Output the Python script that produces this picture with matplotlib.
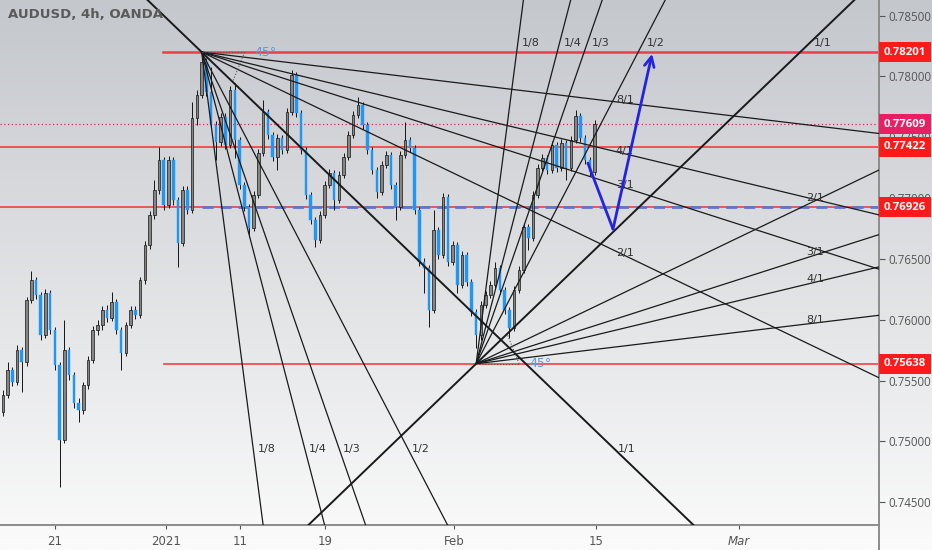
import matplotlib

matplotlib.use("Agg")
import matplotlib.pyplot as plt
import numpy as np

# AUDUSD 4h candles (one candle per third of a trading day)
opens = [0.75241, 0.75381, 0.75586, 0.75488, 0.75751, 0.75652, 0.76162, 0.76326, 0.76203, 0.75874,
         0.76219, 0.75915, 0.75627, 0.75011, 0.75751, 0.75545, 0.75315, 0.75257, 0.75463, 0.75668,
         0.75915, 0.75956, 0.76080, 0.76014, 0.76145, 0.75915, 0.75726, 0.75956, 0.76080, 0.76039,
         0.76326, 0.76614, 0.76861, 0.77067, 0.77313, 0.76943, 0.77313, 0.76984, 0.76631, 0.77067,
         0.76902, 0.77659, 0.77848, 0.78119, 0.77873, 0.77601, 0.77461, 0.77667, 0.77437, 0.77889,
         0.77478, 0.77108, 0.76927, 0.76754, 0.77025, 0.77371, 0.77708, 0.77519, 0.77338, 0.77494,
         0.77395, 0.77708, 0.78012, 0.77700, 0.77395, 0.77025, 0.76820, 0.76655, 0.76861, 0.77108,
         0.77206, 0.76984, 0.77190, 0.77338, 0.77519, 0.77683, 0.77766, 0.77601, 0.77395, 0.77231,
         0.77050, 0.77272, 0.77354, 0.77108, 0.76927, 0.77354, 0.77478, 0.77412, 0.76902, 0.76474,
         0.76425, 0.76080, 0.76738, 0.76532, 0.77009, 0.76474, 0.76614, 0.76285, 0.76532, 0.76310,
         0.76063, 0.75874, 0.76121, 0.76203, 0.76285, 0.76425, 0.76244, 0.76080, 0.75932, 0.76244,
         0.76409, 0.76762, 0.76672, 0.77025, 0.77247, 0.77330, 0.77231, 0.77437, 0.77247, 0.77453,
         0.77247, 0.77478, 0.77675, 0.77494, 0.77313, 0.77215]
highs = [0.75422, 0.75652, 0.75611, 0.75792, 0.75775, 0.76187, 0.76400, 0.76351, 0.76228, 0.76252,
         0.76244, 0.75940, 0.75652, 0.75997, 0.75775, 0.75570, 0.75356, 0.75488, 0.75701, 0.75948,
         0.75997, 0.76113, 0.76121, 0.76228, 0.76170, 0.75940, 0.75981, 0.76113, 0.76113, 0.76351,
         0.76647, 0.76894, 0.77149, 0.77420, 0.77338, 0.77346, 0.77338, 0.77009, 0.77099, 0.77099,
         0.77790, 0.77889, 0.78202, 0.78152, 0.78078, 0.77634, 0.77700, 0.77700, 0.77922, 0.77947,
         0.77502, 0.77132, 0.76951, 0.77058, 0.77404, 0.77807, 0.77733, 0.77544, 0.77527, 0.77519,
         0.77741, 0.78053, 0.78037, 0.77724, 0.77420, 0.77050, 0.76845, 0.76894, 0.77141, 0.77239,
         0.77231, 0.77223, 0.77371, 0.77552, 0.77716, 0.77831, 0.77790, 0.77626, 0.77420, 0.77256,
         0.77305, 0.77387, 0.77379, 0.77132, 0.77387, 0.77626, 0.77502, 0.77437, 0.76927, 0.76507,
         0.76450, 0.76902, 0.76762, 0.77042, 0.77034, 0.76647, 0.76639, 0.76565, 0.76557, 0.76335,
         0.76088, 0.76154, 0.76236, 0.76318, 0.76474, 0.76450, 0.76269, 0.76104, 0.76277, 0.76441,
         0.76795, 0.76787, 0.77058, 0.77280, 0.77363, 0.77354, 0.77469, 0.77461, 0.77486, 0.77478,
         0.77511, 0.77724, 0.77700, 0.77519, 0.77338, 0.77642]
lows = [0.75208, 0.75356, 0.75455, 0.75463, 0.75405, 0.75619, 0.76137, 0.76170, 0.75833, 0.75849,
        0.75882, 0.75586, 0.74624, 0.74986, 0.75504, 0.75274, 0.75159, 0.75224, 0.75430, 0.75644,
        0.75874, 0.75915, 0.75981, 0.75989, 0.75882, 0.75586, 0.75701, 0.75932, 0.76006, 0.76014,
        0.76293, 0.76581, 0.76828, 0.77034, 0.76902, 0.76919, 0.76943, 0.76433, 0.76606, 0.76869,
        0.76877, 0.77601, 0.77823, 0.77840, 0.77576, 0.77313, 0.77428, 0.77404, 0.77412, 0.77330,
        0.77075, 0.76894, 0.76680, 0.76729, 0.77001, 0.77346, 0.77486, 0.77305, 0.77231, 0.77363,
        0.77371, 0.77683, 0.77667, 0.77363, 0.76993, 0.76787, 0.76598, 0.76631, 0.76836, 0.77083,
        0.76902, 0.76960, 0.77165, 0.77313, 0.77494, 0.77659, 0.77568, 0.77363, 0.77198, 0.77001,
        0.77025, 0.77247, 0.77075, 0.76820, 0.76902, 0.77330, 0.77379, 0.76869, 0.76441, 0.76219,
        0.75940, 0.76055, 0.76499, 0.76507, 0.76441, 0.76450, 0.76219, 0.76261, 0.76277, 0.76030,
        0.75767, 0.75833, 0.76096, 0.76178, 0.76261, 0.76211, 0.76047, 0.75849, 0.75907, 0.76219,
        0.76384, 0.76573, 0.76647, 0.77001, 0.77223, 0.77198, 0.77206, 0.77215, 0.77223, 0.77149,
        0.77223, 0.77453, 0.77461, 0.77280, 0.77182, 0.77190]
closes = [0.75381, 0.75586, 0.75488, 0.75751, 0.75652, 0.76162, 0.76326, 0.76203, 0.75874, 0.76219,
          0.75915, 0.75627, 0.75011, 0.75751, 0.75545, 0.75315, 0.75257, 0.75463, 0.75668, 0.75915,
          0.75956, 0.76080, 0.76014, 0.76145, 0.75915, 0.75726, 0.75956, 0.76080, 0.76039, 0.76326,
          0.76614, 0.76861, 0.77067, 0.77313, 0.76943, 0.77313, 0.76984, 0.76631, 0.77067, 0.76902,
          0.77659, 0.77848, 0.78119, 0.77873, 0.77601, 0.77461, 0.77667, 0.77437, 0.77889, 0.77478,
          0.77108, 0.76927, 0.76754, 0.77025, 0.77371, 0.77708, 0.77519, 0.77338, 0.77494, 0.77395,
          0.77708, 0.78012, 0.77700, 0.77395, 0.77025, 0.76820, 0.76655, 0.76861, 0.77108, 0.77206,
          0.76984, 0.77190, 0.77338, 0.77519, 0.77683, 0.77766, 0.77601, 0.77395, 0.77231, 0.77050,
          0.77272, 0.77354, 0.77108, 0.76927, 0.77354, 0.77478, 0.77412, 0.76902, 0.76474, 0.76425,
          0.76080, 0.76738, 0.76532, 0.77009, 0.76474, 0.76614, 0.76285, 0.76532, 0.76310, 0.76063,
          0.75874, 0.76121, 0.76203, 0.76285, 0.76425, 0.76244, 0.76080, 0.75932, 0.76244, 0.76409,
          0.76762, 0.76672, 0.77025, 0.77247, 0.77330, 0.77231, 0.77437, 0.77247, 0.77453, 0.77247,
          0.77478, 0.77675, 0.77494, 0.77313, 0.77215, 0.77609]

# time axis in trading days from the left edge of the chart
tick_pos = [3.87, 11.69, 16.90, 22.89, 31.97, 41.97, 52.04]
tick_lab = ["21", "2021", "11", "19", "Feb", "15", "Mar"]
price_ticks = [0.785, 0.780, 0.775, 0.770, 0.765, 0.760, 0.755, 0.750, 0.745]

# horizontal levels drawn on the chart
levels = [0.78201, 0.77422, 0.76926, 0.75638]
level_start = [11.48, 0.0, 0.0, 11.55]
last_price = 0.77609

# Gann fans
top_pivot = (14.2, 0.78201)
low_pivot = (33.53, 0.75638)
unit_slope = 0.001123  # price per trading day of the 1/1 line
fan_ratios = [8, 4, 3, 2, 1, 1 / 2, 1 / 3, 1 / 4, 1 / 8]
fan_labels = ["1/8", "1/4", "1/3", "1/2", "1/1", "2/1", "3/1", "4/1", "8/1"]

# projected path (blue arrow)
arrow_t = [41.4, 43.17, 45.92]
arrow_p = [0.77288, 0.76745, 0.78186]

XMAX = 61.9
YMIN, YMAX = 0.743117, 0.786291
AX_RIGHT = 879 / 932
PRICE_FONT = ["Open Sans", "DejaVu Sans"]

fig = plt.figure(figsize=(9.32, 5.5), dpi=100)

# background gradient
bg = fig.add_axes([0, 0, 1, 1], zorder=-10)
grad = np.linspace(0, 1, 256)[:, None]
top_c = np.array([196, 199, 204]) / 255.0
bot_c = np.array([251, 251, 251]) / 255.0
img = top_c[None, None, :] * (1 - grad[:, :, None]) + bot_c[None, None, :] * grad[:, :, None]
bg.imshow(img, aspect="auto", extent=[0, 1, 0, 1])
bg.plot([AX_RIGHT, AX_RIGHT], [0, 25 / 550], color="#8c8c8c", lw=1.4)
bg.set_xlim(0, 1)
bg.set_ylim(0, 1)
bg.axis("off")

ax = fig.add_axes([0, 25 / 550, AX_RIGHT, 525 / 550])
ax.patch.set_alpha(0)
ax.set_xlim(0, XMAX)
ax.set_ylim(YMIN, YMAX)

# candles
o = np.array(opens)
h = np.array(highs)
l = np.array(lows)
c = np.array(closes)
t = 0.2 + np.arange(len(c)) / 3.0
up = c >= o
ax.vlines(t, l, h, color="#151515", lw=0.7, zorder=3)
ax.bar(t[up], c[up] - o[up], bottom=o[up], width=0.18, color="#858585",
       edgecolor="#151515", lw=0.5, zorder=4)
ax.bar(t[~up], c[~up] - o[~up], bottom=o[~up], width=0.18, color="#2196f3",
       edgecolor="#2196f3", lw=0.3, zorder=4)

# horizontal levels
for price, x0 in zip(levels, level_start):
    lw = 1.8 if price == levels[0] else 1.2
    ax.plot([x0, XMAX], [price, price], color="#f23030", lw=lw, alpha=0.9, zorder=2)
ax.plot([0, XMAX], [last_price, last_price], color="#e91e63", lw=0.9,
        ls=(0, (1, 2)), zorder=2)
ax.plot([top_pivot[0], XMAX], [levels[2], levels[2]], color="#5a78d0", lw=2.0,
        dashes=(4, 2.5), zorder=2.5)

# Gann fans
s = unit_slope
for piv, sign, steep_p, flat_t in ((top_pivot, -1, 0.7494, 44.0), (low_pivot, 1, 0.78275, 57.4)):
    t0, p0 = piv
    for r, lab in zip(fan_ratios, fan_labels):
        start = -5 if r == 1 else t0
        tt = np.array([start, 80.0])
        pp = p0 + sign * r * s * (tt - t0)
        ax.plot(tt, pp, color="#1a1a1a", lw=1.4 if r == 1 else 0.9, zorder=5)
        if r >= 1:
            tl = t0 + sign * (steep_p - p0) / (r * s)
            ax.annotate(lab, (tl, steep_p), xytext=(3, 0), textcoords="offset points",
                        ha="left", va="center", fontsize=8, color="#333333", zorder=6)
        else:
            pl = p0 + sign * r * s * (flat_t - t0)
            ax.annotate(lab, (flat_t, pl), xytext=(0, 2), textcoords="offset points",
                        ha="center", va="center", fontsize=8, color="#333333", zorder=6)
    # 45 degree marker
    ax.plot([t0, t0 + 3.03], [p0, p0], color="#555555", lw=0.8, ls=":", zorder=5)
    ax.plot([t0 + 3.03, t0 + 2.18], [p0, p0 + sign * s * 2.18], color="#555555",
            lw=0.8, ls=":", zorder=5)
    ax.text(t0 + 4.5, p0, "45°", color="#5b9bd5", fontsize=9, ha="center",
            va="center", zorder=6)

# projected path
ax.plot(arrow_t[:2], arrow_p[:2], color="#2424e0", lw=2, zorder=7, solid_capstyle="round")
ax.annotate("", xy=(arrow_t[2], arrow_p[2]), xytext=(arrow_t[1], arrow_p[1]),
            arrowprops=dict(arrowstyle="->,head_length=0.7,head_width=0.35",
                            color="#2424e0", lw=2, shrinkA=0, shrinkB=0), zorder=7)

# axes styling
for side in ("top", "left"):
    ax.spines[side].set_visible(False)
for side in ("right", "bottom"):
    ax.spines[side].set_color("#8c8c8c")
    ax.spines[side].set_linewidth(1.4)
ax.yaxis.tick_right()
ax.set_yticks(price_ticks)
ax.set_yticklabels([f"{p:.5f}" for p in price_ticks], family=PRICE_FONT)
ax.tick_params(axis="y", labelsize=8.3, colors="#555555", length=4, pad=3)
ax.set_xticks(tick_pos)
ax.set_xticklabels(tick_lab)
ax.tick_params(axis="x", labelsize=8.5, colors="#555555", length=3, pad=4)
ax.get_xticklabels()[-1].set_style("italic")

# price labels on the right axis
boxes = [(levels[0], "#ff1a1a"), (last_price, "#e91e63"), (levels[1], "#ff1a1a"),
         (levels[2], "#ff1a1a"), (levels[3], "#ff1a1a")]
for price, col in boxes:
    ax.annotate(f"{price:.5f}", (1.0, price), xycoords=("axes fraction", "data"),
                xytext=(3.5, 0), textcoords="offset points", ha="left", va="center",
                fontsize=8.2, color="white", fontweight="bold", family=PRICE_FONT,
                annotation_clip=False,
                bbox=dict(boxstyle="square,pad=0.4", fc=col, ec="none"), zorder=20)

fig.text(8 / 932, 1 - 14 / 550, "AUDUSD, 4h, OANDA", fontsize=9.5, color="#5a5a5a",
         fontweight="bold", va="center", ha="left")

fig.savefig("out.png", dpi=100)
